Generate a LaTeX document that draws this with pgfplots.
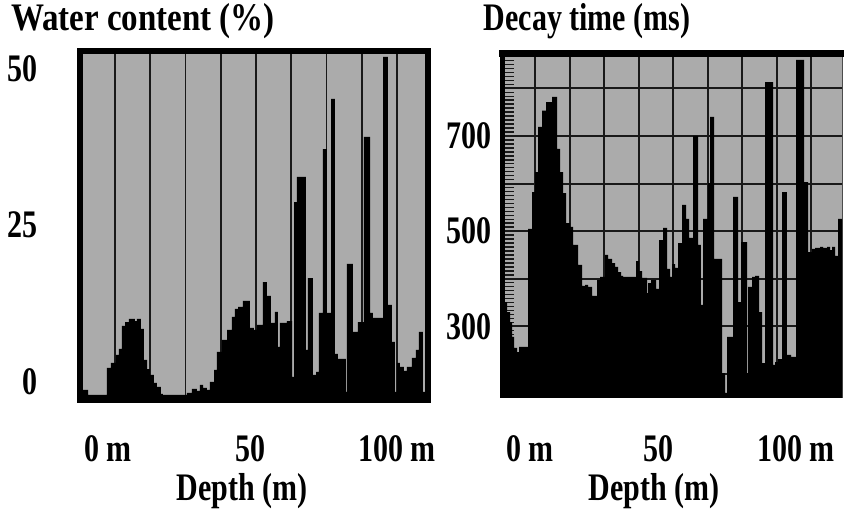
\documentclass[border=0pt]{standalone}
\usepackage{fontspec}
\setmainfont{Liberation Serif}
\usepackage{graphicx}
\usepackage{pgfplots}
\pgfplotsset{compat=1.18}
\definecolor{panel}{gray}{0.67}
\definecolor{gridc}{gray}{0.1}
\newcommand{\bigbf}{\bfseries\fontsize{30}{36}\selectfont}
\newcommand{\vs}[1]{\scalebox{1}[1.3]{#1}}
\begin{document}
\begin{tikzpicture}[x=1pt,y=1pt]
% ---------------- Left panel: water content ----------------
\begin{axis}[
  at={(80pt,109.5pt)}, anchor=south west,
  scale only axis, width=347.5pt, height=349pt,
  xmin=-12.41, xmax=110.82, ymin=-3.04, ymax=52.72,
  axis background/.style={fill=panel},
  axis line style={line width=6pt},
  xtick={-2.48,48.2,100}, xticklabels={\vs{0 m},\vs{50},\vs{100 m}},
  minor xtick={0,12.5,...,100},
  xminorgrids, minor x grid style={gridc, line width=1.8pt},
  ytick={0,25,50}, yticklabels={\vs{0},\vs{25},\vs{50}},
  major tick length=0pt, minor tick length=0pt,
  /pgf/number format/assume math mode=true,
  tick label style={font=\bigbf},
  xticklabel style={anchor=base, yshift=-61.5pt},
  yticklabel style={anchor=east, inner sep=0pt, xshift=-42pt},
]
\addplot[fill=black, draw=none, const plot mark left] coordinates {
(-11.35,-3.04) (-11.35,-1.36) (-9.57,-2.16) (-2.84,2.16) (-1.42,2.96) (0.35,4.23) (1.42,5.19) (2.48,8.87) (3.55,9.50) (4.96,9.98) (7.09,9.66) (7.80,9.98) (9.22,8.39) (10.28,3.43) (11.35,1.99) (12.41,1.04) (13.83,-0.24) (14.89,-0.88) (16.31,-2.00) (17.02,-2.16) (25.53,-1.84) (27.30,-1.20) (29.08,-1.52) (30.14,-0.56) (31.21,-1.04) (32.62,-1.36) (33.69,-0.08) (35.11,1.84) (36.17,4.71) (37.94,6.63) (39.72,8.23) (41.49,10.30) (42.55,11.58) (43.62,11.90) (45.39,12.86) (47.87,8.55) (49.29,8.23) (50.35,9.03) (52.48,15.89) (53.90,13.66) (55.32,9.35) (56.74,11.10) (57.80,5.51) (58.51,9.35) (60.99,9.66) (62.77,0.72) (63.48,28.67) (64.54,32.67) (67.73,5.03) (68.44,16.53) (70.21,1.04) (71.28,1.52) (72.34,10.94) (73.76,37.14) (75.18,10.94) (76.60,45.13) (78.01,4.39) (79.08,3.59) (81.91,-1.68) (82.27,18.77) (84.40,7.91) (86.17,9.50) (88.30,39.06) (90.43,10.94) (91.49,10.14) (95.04,51.84) (96.81,12.22) (98.23,6.31) (99.29,-1.68) (100.00,2.96) (101.06,2.32) (102.48,1.68) (103.55,2.32) (105.32,3.75) (106.74,5.03) (107.80,7.91) (109.22,-1.68) (109.93,-1.68) (109.93,-3.04)
} -- cycle;
\end{axis}
% ---------------- Right panel: decay time ----------------
\begin{axis}[
  at={(502.5pt,112pt)}, anchor=south west,
  scale only axis, width=339.5pt, height=344.5pt,
  xmin=-11.78, xmax=111.23, ymin=149.5, ymax=873.3,
  clip=false,
  axis background/.style={fill=panel},
  axis line style={draw=gray!60!black, line width=1pt},
  xtick={-1.81,44.6,94.6}, xticklabels={\vs{0 m},\vs{50},\vs{100 m}},
  minor xtick={0,12.5,...,100},
  xminorgrids, minor x grid style={gridc, line width=2pt},
  ytick={200,300,...,800}, yticklabels={,\vs{300},,\vs{500},,\vs{700},},
  ymajorgrids, major y grid style={gridc, line width=2pt},
  minor ytick={158.333,166.667,...,870},
  ytick pos=left,
  xtick style={draw=none},
  ytick style={gridc, line width=1.5pt},
  major tick length=11.5pt, minor tick length=11.5pt,
  /pgf/number format/assume math mode=true,
  tick label style={font=\bigbf},
  xticklabel style={anchor=base, yshift=-64pt},
  yticklabel style={anchor=east, inner sep=0pt, xshift=-10.5pt},
]
\addplot[fill=black, draw=none, const plot mark left] coordinates {
(-10.87,149.5) (-10.87,351) (-10.14,330) (-9.06,309) (-8.33,278) (-7.61,255) (-6.52,246) (-5.80,257) (-2.54,505) (-1.09,582) (0,624) (1.09,719) (2.54,753) (3.99,771) (6.16,782) (7.97,673) (9.06,624) (10.14,580) (11.23,517) (12.68,509) (13.77,471) (15.58,429) (17.03,385) (18.12,387) (19.20,383) (20.65,364) (22.46,397) (23.55,404) (25.36,450) (26.45,442) (27.90,433) (28.99,425) (30.07,414) (31.16,406) (31.88,404) (33.70,404) (36.59,437) (37.68,416) (38.77,402) (40.58,370) (40.94,391) (42.03,397) (43.84,379) (44.93,481) (46.38,507) (47.83,421) (48.91,404) (49.64,431) (50.72,423) (51.81,475) (53.26,555) (54.71,526) (55.80,486) (57.25,700) (59.06,471) (60.14,345) (60.87,526) (62.68,601) (63.41,740) (64.86,442) (67.75,202) (68.84,160) (69.57,278) (71.74,572) (73.55,351) (74.64,477) (76.81,202) (77.17,383) (78.62,404) (79.71,406) (81.16,330) (82.25,223) (83.33,813) (86.23,219) (86.96,225) (88.04,231) (89.49,582) (91.30,240) (92.75,236) (94.57,860) (97.46,603) (98.91,456) (100.36,463) (101.45,465) (103.26,467) (104.35,465) (105.80,467) (106.88,460) (107.61,467) (108.70,448) (109.78,526) (111.23,526) (111.23,149.5)
} -- cycle;
\draw[line width=5pt] (rel axis cs:0,0) -- (rel axis cs:0,1);
\draw[line width=7pt, line cap=rect] (rel axis cs:0,1) -- (rel axis cs:1,1);
\end{axis}
% ---------------- Titles and axis labels ----------------
\node[font=\bigbf, inner sep=0pt] at (143,489) {\scalebox{1.1}[1.3]{Water content (\%)}};
\node[font=\bigbf, inner sep=0pt] at (587,489) {\vs{Decay time (ms)}};
\node[font=\bigbf, inner sep=0pt] at (242,19) {\vs{Depth (m)}};
\node[font=\bigbf, inner sep=0pt] at (654,19) {\vs{Depth (m)}};
\pgfresetboundingbox
\path[use as bounding box] (0,0) rectangle (844,510);
\end{tikzpicture}
\end{document}
